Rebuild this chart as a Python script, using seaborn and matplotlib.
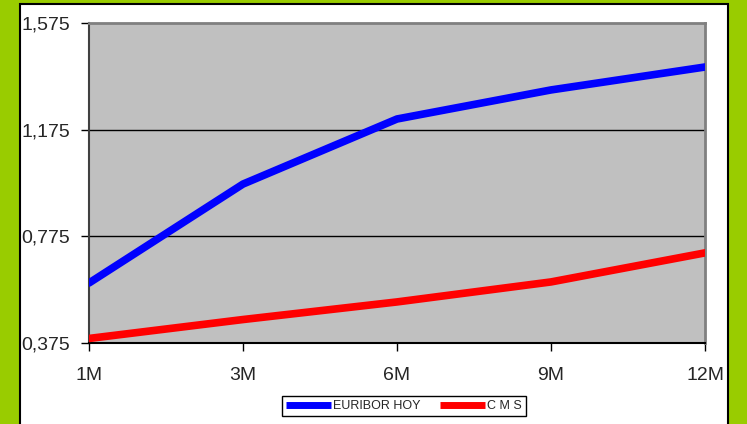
import pandas as pd
import matplotlib
matplotlib.use('Agg')
import matplotlib.pyplot as plt
import seaborn as sns
from matplotlib.patches import Rectangle
from matplotlib.ticker import FuncFormatter

# Data
plazos = ['1M', '3M', '6M', '9M', '12M']
euribor_hoy = [0.600, 0.971, 1.215, 1.324, 1.410]
cms = [0.392, 0.463, 0.529, 0.604, 0.713]
y_ticks = [0.375, 0.775, 1.175, 1.575]

df = pd.DataFrame({
    'plazo': plazos * 2,
    'pos': list(range(len(plazos))) * 2,
    'valor': euribor_hoy + cms,
    'serie': ['EURIBOR HOY'] * len(plazos) + ['C M S'] * len(plazos),
})

sns.set_style('white')
plt.rcParams['font.family'] = ['Liberation Sans', 'DejaVu Sans']

fig = plt.figure(figsize=(7.47, 4.24), dpi=100)
fig.patch.set_facecolor('#99CC00')

# White chart panel with black border (behind the axes)
fig.patches.append(Rectangle((20 / 747, -0.1), 708 / 747, 1.1 - 4 / 424,
                             transform=fig.transFigure, facecolor='white',
                             edgecolor='black', linewidth=1.5, zorder=-5))

ax = fig.add_axes([89 / 747, 1 - 343 / 424, 616 / 747, 320 / 424])
ax.set_facecolor('#C0C0C0')

sns.lineplot(data=df, x='pos', y='valor', hue='serie',
             palette={'EURIBOR HOY': '#0000FF', 'C M S': '#FF0000'},
             linewidth=5.5, ax=ax, zorder=3)

ax.set_xlim(0, len(plazos) - 1)
ax.set_ylim(y_ticks[0], y_ticks[-1])
ax.set_xticks(range(len(plazos)))
ax.set_xticklabels(plazos)
ax.set_yticks(y_ticks)
ax.yaxis.set_major_formatter(FuncFormatter(lambda v, p: '{:.3f}'.format(v).replace('.', ',')))
ax.set_xlabel('')
ax.set_ylabel('')

# Horizontal gridlines
for v in y_ticks[1:-1]:
    ax.axhline(v, color='black', linewidth=1, zorder=2)

ax.tick_params(axis='y', which='major', labelsize=14, length=6, width=1,
               color='black', pad=7.5, left=True, direction='out')
ax.tick_params(axis='x', which='major', labelsize=14, length=6, width=1,
               color='black', pad=11.5, bottom=True, direction='out')

for s in ['top', 'right']:
    ax.spines[s].set_color('#808080')
    ax.spines[s].set_linewidth(2)
ax.spines['left'].set_color('#404040')
ax.spines['left'].set_linewidth(1.5)
ax.spines['bottom'].set_color('black')
ax.spines['bottom'].set_linewidth(1.5)

leg = ax.legend(loc='center', bbox_to_anchor=(404 / 747, 1 - 406 / 424),
                bbox_transform=fig.transFigure, ncol=2, fontsize=9,
                handlelength=3.6, handletextpad=0.2, columnspacing=1.5,
                frameon=True, fancybox=False, framealpha=1,
                edgecolor='black', borderpad=0.3)
leg.get_frame().set_linewidth(1)
for line in leg.get_lines():
    line.set_linewidth(5)
    line.set_solid_capstyle('butt')

fig.set_zorder(0)
ax.set_zorder(1)

plt.savefig('out.png', dpi=100, facecolor=fig.get_facecolor())
